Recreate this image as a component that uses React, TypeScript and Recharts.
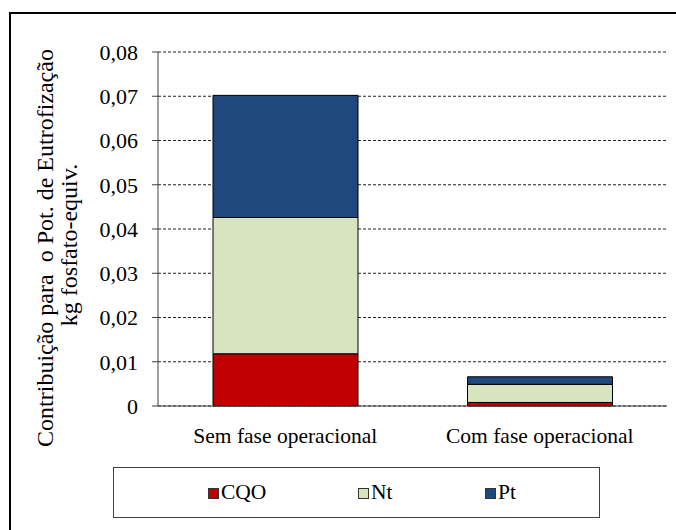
import React from "react";
import { BarChart, Bar, XAxis, YAxis, CartesianGrid } from "recharts";

const categories = ["Sem fase operacional", "Com fase operacional"];
const cqoValues = [0.0118, 0.0008];
const ntValues = [0.0308, 0.0041];
const ptValues = [0.0276, 0.0017];
const yTicks = [0, 0.01, 0.02, 0.03, 0.04, 0.05, 0.06, 0.07, 0.08];
const seriesNames = ["CQO", "Nt", "Pt"];
const seriesColors = ["#C00000", "#D7E4BD", "#1F497D"];
const yLabelLines = ["Contribuição para  o Pot. de Eutrofização", "kg fosfato-equiv."];

const data = categories.map((c, i) => ({
  name: c,
  CQO: cqoValues[i],
  Nt: ntValues[i],
  Pt: ptValues[i],
}));

const FONT = '"Liberation Serif"';

const fmt = (v: number) => (v === 0 ? "0" : v.toFixed(2).replace(".", ","));

const YLabel = () => (
  <g>
    <text
      x={45}
      y={248}
      transform="rotate(-90 45 248)"
      textAnchor="middle"
      dominantBaseline="central"
      fontFamily="Liberation Serif"
      fontSize={24}
      fill="#000"
      style={{ whiteSpace: "pre" }}
    >
      {yLabelLines[0]}
    </text>
    <text
      x={69}
      y={245}
      transform="rotate(-90 69 245)"
      textAnchor="middle"
      dominantBaseline="central"
      fontFamily="Liberation Serif"
      fontSize={24}
      fill="#000"
    >
      {yLabelLines[1]}
    </text>
  </g>
);

const legendX = [94, 244, 371];

export default function App() {
  return (
    <div style={{ position: "absolute", left: 0, top: 0, width: 676, height: 530, background: "#fff", fontFamily: FONT }}>
      <div
        style={{
          position: "absolute",
          left: 9,
          top: 12,
          width: 665,
          height: 516,
          borderLeft: "2.5px solid #000",
          borderTop: "2.5px solid #000",
        }}
      />
      <div style={{ position: "absolute", left: 0, top: 0 }}>
        <BarChart
          width={676}
          height={530}
          data={data}
          margin={{ top: 52, right: 9, left: 98, bottom: 94 }}
          barSize={145}
        >
          <CartesianGrid vertical={false} stroke="#222" strokeDasharray="3 2" />
          <XAxis
            dataKey="name"
            height={30}
            tickLine={false}
            tickSize={0}
            tickMargin={22}
            axisLine={{ stroke: "#404040" }}
            tick={{ fontFamily: "Liberation Serif", fontSize: 21.5, fill: "#000" }}
          />
          <YAxis
            width={60}
            domain={[0, 0.08]}
            ticks={yTicks}
            tickFormatter={fmt}
            tickSize={6}
            tickMargin={14}
            axisLine={{ stroke: "#404040" }}
            tickLine={{ stroke: "#404040" }}
            tick={{ fontFamily: "Liberation Serif", fontSize: 22, fill: "#000" }}
            label={{ content: () => <YLabel /> }}
            interval={0}
          />
          {seriesNames.map((s, i) => (
            <Bar
              key={s}
              dataKey={s}
              stackId="a"
              fill={seriesColors[i]}
              stroke="#000"
              strokeWidth={1}
              isAnimationActive={false}
            />
          ))}
        </BarChart>
      </div>
      <div
        style={{
          position: "absolute",
          left: 113,
          top: 467,
          width: 487,
          height: 51,
          border: "1px solid #404040",
          boxSizing: "border-box",
          fontFamily: FONT,
          fontSize: 21.5,
        }}
      >
        {seriesNames.map((s, i) => (
          <div
            key={s}
            style={{
              position: "absolute",
              left: legendX[i],
              top: 12,
              display: "flex",
              alignItems: "center",
              lineHeight: "24px",
            }}
          >
            <span
              style={{
                display: "inline-block",
                width: 9,
                height: 9,
                background: seriesColors[i],
                border: "1px solid #333",
                marginRight: 2,
                marginTop: 2,
              }}
            />
            <span>{s}</span>
          </div>
        ))}
      </div>
    </div>
  );
}
